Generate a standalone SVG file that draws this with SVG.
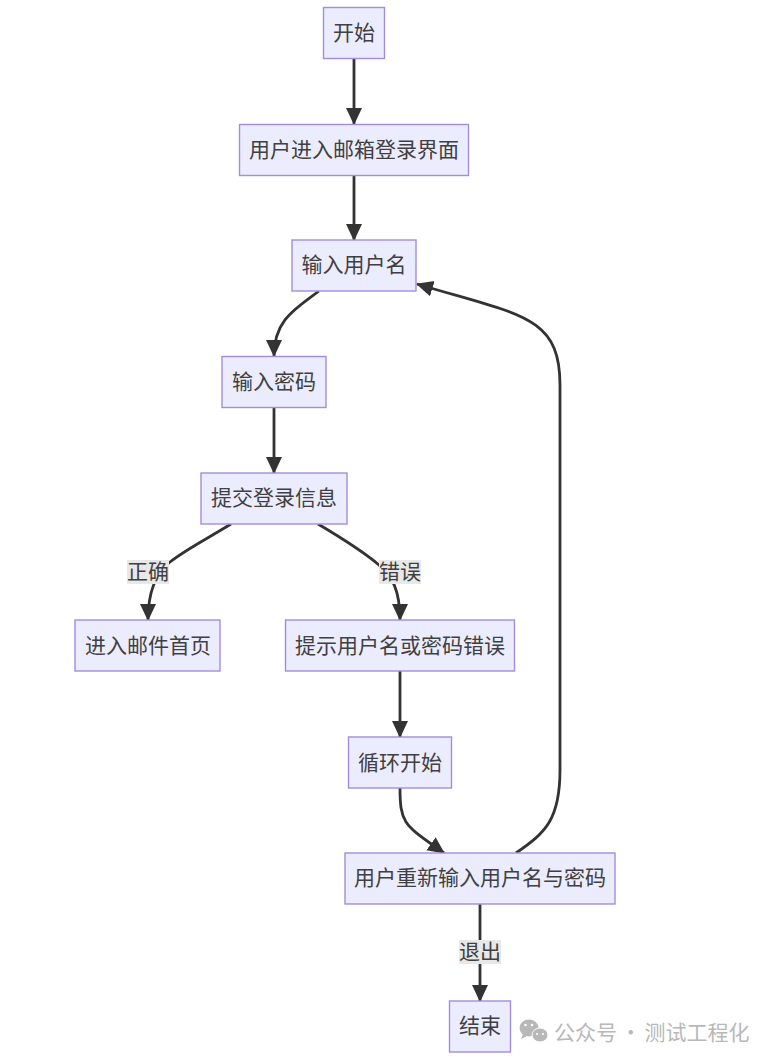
<svg xmlns="http://www.w3.org/2000/svg" width="775" height="1063" viewBox="0 0 775 1063">
<style>
text{font-family:"Noto Sans CJK SC","Noto Sans",sans-serif;fill:#404040;font-size:21px;text-anchor:middle;dominant-baseline:central}
.n{fill:#ececff;stroke:#a48ddc;stroke-width:1.4}
.e{fill:none;stroke:#333;stroke-width:2.8}
.lb{fill:#e8e8e8}
.wm{fill:#b8b8b8;font-size:21px;text-anchor:start;word-spacing:-1.500px}
</style>
<defs>
<marker id="a" markerUnits="userSpaceOnUse" markerWidth="18" markerHeight="18" refX="16" refY="8" orient="auto"><path d="M0 0L17 8L0 16z" fill="#333"/></marker>
</defs>
<rect width="775" height="1063" fill="#fff"/>
<g id="connectors">
<path class="e" marker-end="url(#a)" d="M354 58V124"/>
<path class="e" marker-end="url(#a)" d="M354 175V240"/>
<path class="e" marker-end="url(#a)" d="M319 291C295 309 274 320 274 356"/>
<path class="e" marker-end="url(#a)" d="M274 407V473"/>
<path class="e" marker-end="url(#a)" d="M231 524C205 540 185 550 170 562C160 570 148 585 148 620"/>
<path class="e" marker-end="url(#a)" d="M318 524C345 540 365 553 379 565C392 576 400 590 400 620"/>
<path class="e" marker-end="url(#a)" d="M400 671V737"/>
<path class="e" marker-end="url(#a)" d="M400 788C400 825 405 825 444 853"/>
<path class="e" marker-end="url(#a)" d="M516 853C545 833 560 820 560 770V385C560 315 520 315 417 284"/>
<path class="e" marker-end="url(#a)" d="M480 904V1001"/>
</g>
<g id="edge-label-ok"><rect class="lb" x="127" y="560" width="42" height="24"/><text x="148" y="570">正确</text></g>
<g id="edge-label-err"><rect class="lb" x="379" y="560" width="42" height="24"/><text x="400" y="570">错误</text></g>
<g id="edge-label-exit"><rect class="lb" x="459" y="940" width="42" height="24"/><text x="480" y="950">退出</text></g>
<g id="n1"><rect class="n" x="323.500" y="7.500" width="61" height="51"/><text x="354" y="31">开始</text></g>
<g id="n2"><rect class="n" x="239.500" y="124.500" width="229" height="51"/><text x="354" y="148">用户进入邮箱登录界面</text></g>
<g id="n3"><rect class="n" x="292" y="240" width="124" height="51"/><text x="354" y="263">输入用户名</text></g>
<g id="n4"><rect class="n" x="222" y="356.500" width="104" height="51"/><text x="274" y="380">输入密码</text></g>
<g id="n5"><rect class="n" x="201" y="473" width="146" height="51"/><text x="274" y="496">提交登录信息</text></g>
<g id="n6"><rect class="n" x="75" y="620" width="145" height="51"/><text x="148" y="644">进入邮件首页</text></g>
<g id="n7"><rect class="n" x="285.500" y="620" width="229" height="51"/><text x="400" y="644">提示用户名或密码错误</text></g>
<g id="n8"><rect class="n" x="348.500" y="737" width="103" height="51"/><text x="400" y="761">循环开始</text></g>
<g id="n9"><rect class="n" x="345" y="853" width="270" height="51"/><text x="480" y="876">用户重新输入用户名与密码</text></g>
<g id="n10"><rect class="n" x="449.500" y="1001" width="61" height="51"/><text x="480" y="1024">结束</text></g>
<g id="watermark">
<ellipse cx="529" cy="1028" rx="9.500" ry="8.500" fill="#b8b8b8"/>
<path d="M523 1034l-2 5 6-3z" fill="#b8b8b8"/>
<ellipse cx="540" cy="1035" rx="8" ry="7" fill="#b8b8b8" stroke="#fff"/>
<circle cx="525.500" cy="1025" r="1.300" fill="#fff"/><circle cx="532" cy="1025" r="1.300" fill="#fff"/>
<circle cx="537" cy="1034" r="1.100" fill="#fff"/><circle cx="543" cy="1034" r="1.100" fill="#fff"/>
<text class="wm" x="554" y="1031">公众号 · 测试工程化</text>
</g>
</svg>
